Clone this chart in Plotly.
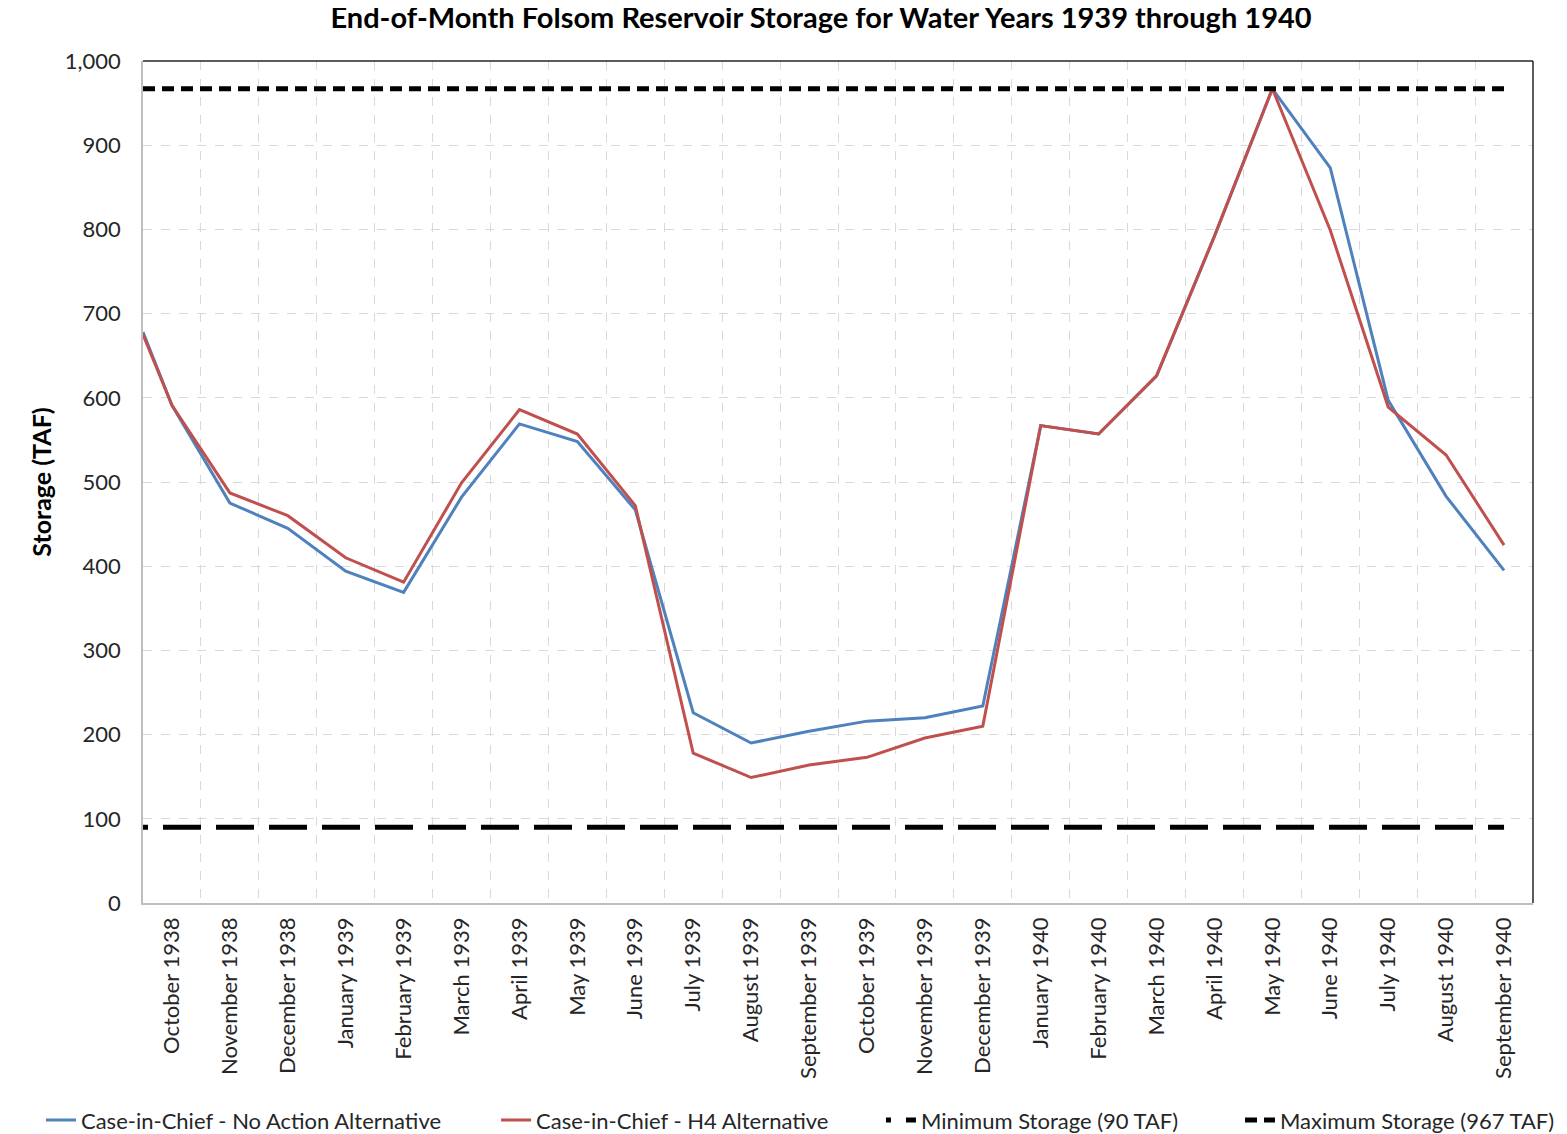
import plotly.graph_objects as go

# categories (end of month)
months = [
    "October 1938", "November 1938", "December 1938", "January 1939", "February 1939",
    "March 1939", "April 1939", "May 1939", "June 1939", "July 1939", "August 1939",
    "September 1939", "October 1939", "November 1939", "December 1939", "January 1940",
    "February 1940", "March 1940", "April 1940", "May 1940", "June 1940", "July 1940",
    "August 1940", "September 1940",
]

# storage (TAF); first value is the carry-in point at the left edge of the axis
no_action = [678, 591, 475, 445, 394, 369, 482, 569, 548, 467, 226, 190, 204, 216,
             220, 234, 567, 557, 626, 792, 967, 873, 597, 483, 395]
h4 = [675, 591, 487, 460, 410, 381, 499, 586, 557, 472, 178, 149, 164, 173,
      196, 210, 567, 557, 626, 792, 967, 799, 589, 532, 425]
min_storage = 90
max_storage = 967

# x positions: carry-in at -0.5, then one per month
xs = [-0.5] + list(range(len(months)))

FONT = "Lato"
TXT = "#262626"

fig = go.Figure()

fig.add_trace(go.Scatter(x=xs, y=no_action, mode="lines", name="Case-in-Chief - No Action Alternative",
                         line=dict(color="#4F81BD", width=3), legend="legend"))
fig.add_trace(go.Scatter(x=xs, y=h4, mode="lines", name="Case-in-Chief - H4 Alternative",
                         line=dict(color="#C0504D", width=3), legend="legend2"))
fig.add_trace(go.Scatter(x=[xs[0], xs[-1]], y=[min_storage, min_storage], mode="lines",
                         name="Minimum Storage (90 TAF)", legend="legend3",
                         line=dict(color="black", width=5, dash="5px,15px,33px,0px")))
fig.add_trace(go.Scatter(x=[xs[0], xs[-1]], y=[max_storage, max_storage], mode="lines",
                         name="Maximum Storage (967 TAF)", legend="legend4",
                         line=dict(color="black", width=5, dash="12px,7px")))

# one legend box per entry so each sits where the original puts it
leg = dict(orientation="h", xanchor="left", y=-0.258, yanchor="middle",
           font=dict(family=FONT, size=22, color=TXT), bgcolor="rgba(0,0,0,0)")

# the page body has an 8px margin, so the figure is sized 8px smaller
fig.update_layout(
    width=1559, height=1126,
    margin=dict(l=135, r=34, t=53, b=231, autoexpand=False),
    paper_bgcolor="white", plot_bgcolor="white",
    font=dict(family=FONT, size=22, color=TXT),
    title=dict(text="<b>End-of-Month Folsom Reservoir Storage for Water Years 1939 through 1940</b>",
               x=0.5215, xref="container", xanchor="center",
               y=1, yref="container", yanchor="top", pad=dict(t=0, b=0),
               font=dict(family=FONT, size=29, color="black")),
    showlegend=True,
    legend=dict(leg, x=-0.0734),
    legend2=dict(leg, x=0.2540),
    legend3=dict(leg, x=0.5309),
    legend4=dict(leg, x=0.7892),
    hovermode=False,
)

fig.update_xaxes(
    range=[-0.5, len(months) - 0.5], automargin=False,
    tickmode="array", tickvals=list(range(len(months))), ticktext=months,
    tickangle=-90, showgrid=False, zeroline=False,
    showline=True, linecolor="#BFBFBF", linewidth=1.5,
    ticks="", ticklabelstandoff=4,
    minor=dict(tickmode="array", tickvals=[i - 0.5 for i in range(len(months) + 1)],
               showgrid=True, gridcolor="#D9D9D9", griddash="dash", gridwidth=1, ticks=""),
)

fig.update_yaxes(
    range=[0, 1000], dtick=100, tickformat=",", automargin=False,
    showgrid=True, gridcolor="#D9D9D9", griddash="dash", gridwidth=1,
    zeroline=False, showline=True, linecolor="#BFBFBF", linewidth=1.5,
    ticks="", ticklabelstandoff=16,
    title=dict(text="<b>Storage (TAF)</b>", font=dict(family=FONT, size=25, color="black"), standoff=6),
)

# dark frame on top and right
fig.add_shape(type="line", xref="paper", yref="paper", x0=0, x1=1, y0=1, y1=1,
              line=dict(color="#262626", width=1.5))
fig.add_shape(type="line", xref="paper", yref="paper", x0=1, x1=1, y0=0, y1=1,
              line=dict(color="#262626", width=1.5))

fig.write_html("out.html")
